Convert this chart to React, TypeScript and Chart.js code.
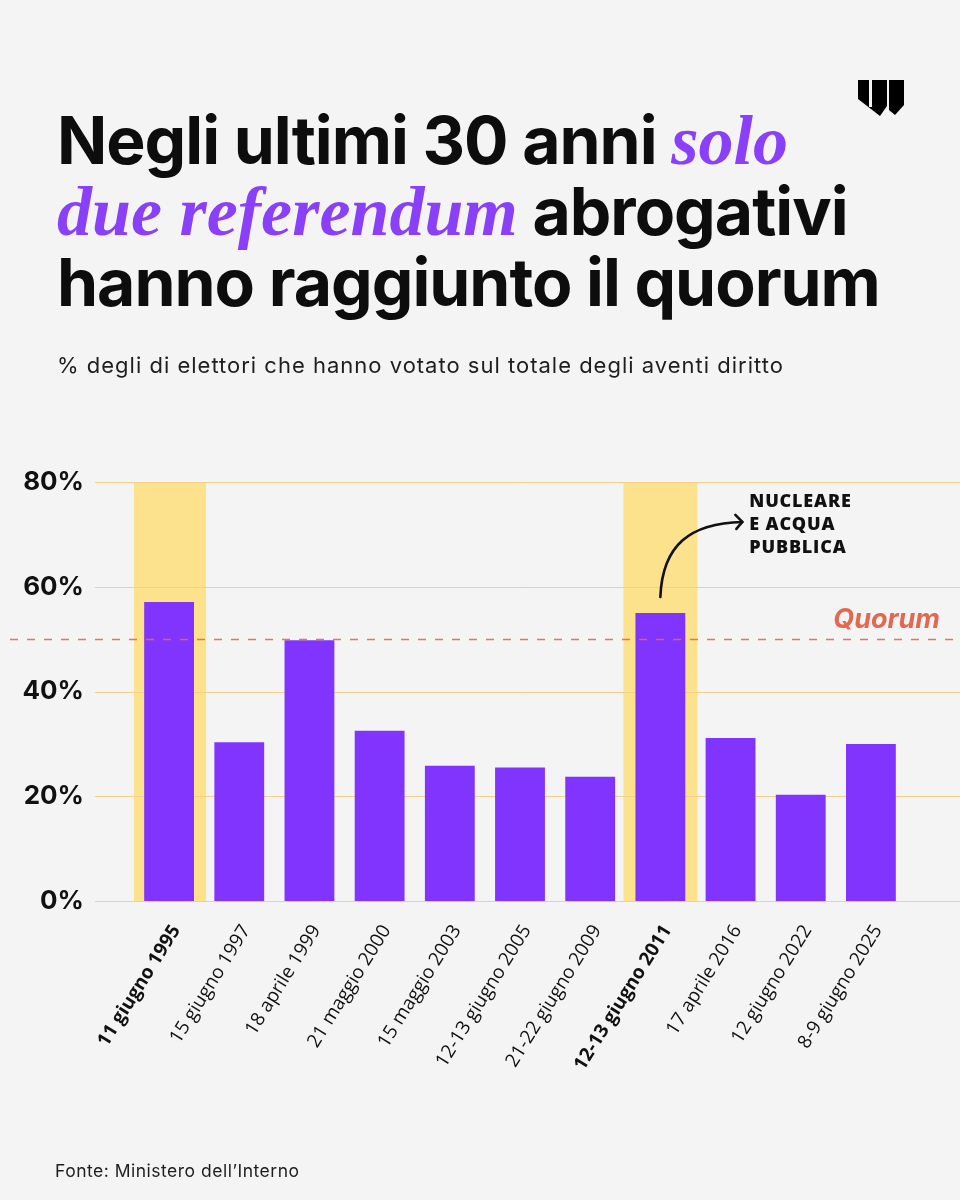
import React, { useEffect, useRef } from "react";
import { Chart, registerables } from "chart.js";

Chart.register(...registerables);

// ---- data ----
const categories = [
  "11 giugno 1995",
  "15 giugno 1997",
  "18 aprile 1999",
  "21 maggio 2000",
  "15 maggio 2003",
  "12-13 giugno 2005",
  "21-22 giugno 2009",
  "12-13 giugno 2011",
  "17 aprile 2016",
  "12 giugno 2022",
  "8-9 giugno 2025",
];
const turnout = [57.1, 30.3, 49.8, 32.5, 25.8, 25.5, 23.7, 55.0, 31.1, 20.3, 30.0];
const quorumReached = [true, false, false, false, false, false, false, true, false, false, false];
const yTicks = [0, 20, 40, 60, 80];
const quorumValue = 50;
const quorumLabel = "Quorum";
const annotationIndex = 7;
const annotationLines = ["NUCLEARE", "E ACQUA", "PUBBLICA"];

// ---- styles ----
const BG = "#f4f4f4";
const PURPLE = "#8134fe";
const TITLE_PURPLE = "#8a40f8";
const BAND = "#fde28d";
const GRID = "#f3d08c";
const QUORUM = "#e2684f";
const INK = "#0d0d0d";
const SANS = "Inter, 'Noto Sans', sans-serif";
const NARROW = "'Open Sans', 'Noto Sans', sans-serif";

const overlayPlugin = {
  id: "overlay",
  afterDatasetDraw(chart: any, args: any) {
    if (args.index !== 0) return;
    const { ctx, chartArea } = chart;
    const y = chart.scales.y;
    ctx.save();
    ctx.strokeStyle = GRID;
    ctx.lineWidth = 1;
    yTicks.forEach((v) => {
      const py = Math.round(y.getPixelForValue(v)) + 0.5;
      ctx.beginPath();
      ctx.moveTo(chartArea.left - 39, py);
      ctx.lineTo(chart.width, py);
      ctx.stroke();
    });
    ctx.restore();
  },
  afterDatasetsDraw(chart: any) {
    const { ctx } = chart;
    const x = chart.scales.x;
    const y = chart.scales.y;
    ctx.save();
    // quorum line
    const qy = Math.round(y.getPixelForValue(quorumValue)) + 0.5;
    ctx.strokeStyle = QUORUM;
    ctx.globalAlpha = 0.9;
    ctx.lineWidth = 1.6;
    ctx.setLineDash([8, 9]);
    ctx.beginPath();
    ctx.moveTo(10, qy);
    ctx.lineTo(chart.width, qy);
    ctx.stroke();
    ctx.setLineDash([]);
    ctx.globalAlpha = 1;
    ctx.fillStyle = QUORUM;
    ctx.font = "italic 700 27px " + SANS;
    ctx.textAlign = "right";
    ctx.textBaseline = "alphabetic";
    ctx.fillText(quorumLabel, 940, qy - 12);

    // annotation arrow
    const ax = x.getPixelForValue(annotationIndex);
    const ay = y.getPixelForValue(turnout[annotationIndex]);
    const sx = ax, sy = ay - 16;
    const ex = ax + 82, ey = ay - 91;
    ctx.strokeStyle = "#111";
    ctx.lineWidth = 2.6;
    ctx.lineCap = "round";
    ctx.lineJoin = "round";
    ctx.beginPath();
    ctx.moveTo(sx, sy);
    ctx.bezierCurveTo(ax + 2, ay - 68, ax + 30, ay - 90, ex, ey);
    ctx.stroke();
    ctx.beginPath();
    ctx.moveTo(ex - 7, ey - 7);
    ctx.lineTo(ex, ey);
    ctx.lineTo(ex - 6, ey + 7);
    ctx.stroke();

    // annotation text
    ctx.fillStyle = "#111";
    ctx.font = "800 18px 'Open Sans', " + SANS;
    (ctx as any).letterSpacing = "0.8px";
    ctx.textAlign = "left";
    ctx.textBaseline = "alphabetic";
    annotationLines.forEach((line, i) => {
      ctx.fillText(line, ax + 89, ay - 106 + i * 23);
    });
    (ctx as any).letterSpacing = "0px";
    ctx.restore();
  },
};

export default function App() {
  const ref = useRef<HTMLCanvasElement>(null);

  useEffect(() => {
    const yMax = yTicks[yTicks.length - 1];
    const chart = new Chart(ref.current as HTMLCanvasElement, {
      type: "bar",
      data: {
        labels: categories,
        datasets: [
          {
            label: "highlight",
            data: quorumReached.map((q) => (q ? yMax : null)),
            backgroundColor: BAND,
            grouped: false,
            barPercentage: 1.054,
            categoryPercentage: 1,
            order: 2,
          },
          {
            label: "Affluenza",
            data: turnout,
            backgroundColor: PURPLE,
            grouped: false,
            barPercentage: 0.71,
            categoryPercentage: 1,
            order: 1,
          },
        ],
      },
      options: {
        animation: false,
        responsive: false,
        maintainAspectRatio: false,
        devicePixelRatio: 1,
        layout: { padding: { top: 482, right: 54, bottom: 0, left: 0 } },
        plugins: { legend: { display: false }, tooltip: { enabled: false }, title: { display: false } },
        scales: {
          x: {
            grid: { display: false, drawTicks: false },
            border: { display: false },
            ticks: {
              minRotation: 58,
              maxRotation: 58,
              autoSkip: false,
              padding: 20,
              labelOffset: 7,
              color: "#111",
              font: (c: any) => ({
                family: NARROW,
                style: "condensed",
                size: 19,
                weight: quorumReached[c.index] ? "bold" : "normal",
              }),
            },
            afterFit: (s: any) => {
              s.height = 299;
            },
          },
          y: {
            min: 0,
            max: yMax,
            grid: { display: false, drawTicks: false },
            border: { display: false },
            ticks: {
              stepSize: 20,
              padding: 50,
              color: "#111",
              font: { family: SANS, size: 26, weight: "bold" },
              callback: (v: any) => v + "%",
            },
            afterFit: (s: any) => {
              s.width = 134;
            },
          },
        },
      },
      plugins: [overlayPlugin],
    });
    return () => chart.destroy();
  }, []);

  const purple: React.CSSProperties = {
    fontFamily: "'Liberation Serif', 'DejaVu Serif', serif",
    fontStyle: "italic",
    fontWeight: 700,
    fontSize: 70,
    letterSpacing: 0,
    color: TITLE_PURPLE,
  };

  return (
    <div
      style={{
        position: "absolute",
        left: 0,
        top: 0,
        width: 960,
        height: 1200,
        background: BG,
        overflow: "hidden",
        fontFamily: SANS,
        color: INK,
      }}
    >
      <canvas
        ref={ref}
        width={960}
        height={1200}
        style={{ position: "absolute", left: 0, top: 0, width: 960, height: 1200 }}
      />
      <svg
        width={60}
        height={45}
        viewBox="0 0 60 45"
        style={{ position: "absolute", left: 850, top: 75 }}
      >
        <polygon points="8,5 37,5 37,31 30,41 8,24" fill="#000" />
        <rect x={19} y={5} width={3} height={27} fill={BG} />
        <polygon points="39,5 54,5 54,30 45,40 39,35" fill="#000" />
      </svg>
      <div
        style={{
          position: "absolute",
          left: 57,
          top: 105,
          width: 880,
          fontSize: 66,
          fontWeight: 700,
          lineHeight: "71px",
          letterSpacing: -1,
          whiteSpace: "nowrap",
        }}
      >
        Negli ultimi 30 anni <span style={purple}>solo</span>
        <br />
        <span style={purple}>due referendum</span> abrogativi
        <br />
        hanno raggiunto il quorum
      </div>
      <div
        style={{
          position: "absolute",
          left: 57,
          top: 352,
          fontSize: 22,
          lineHeight: "26px",
          letterSpacing: 1,
          color: "#1e1e1e",
          whiteSpace: "nowrap",
        }}
      >
        % degli di elettori che hanno votato sul totale degli aventi diritto
      </div>
      <div
        style={{
          position: "absolute",
          left: 55,
          top: 1161,
          fontSize: 17.5,
          lineHeight: "20px",
          letterSpacing: 0.5,
          color: "#1e1e1e",
          whiteSpace: "nowrap",
        }}
      >
        Fonte: Ministero dell’Interno
      </div>
    </div>
  );
}
